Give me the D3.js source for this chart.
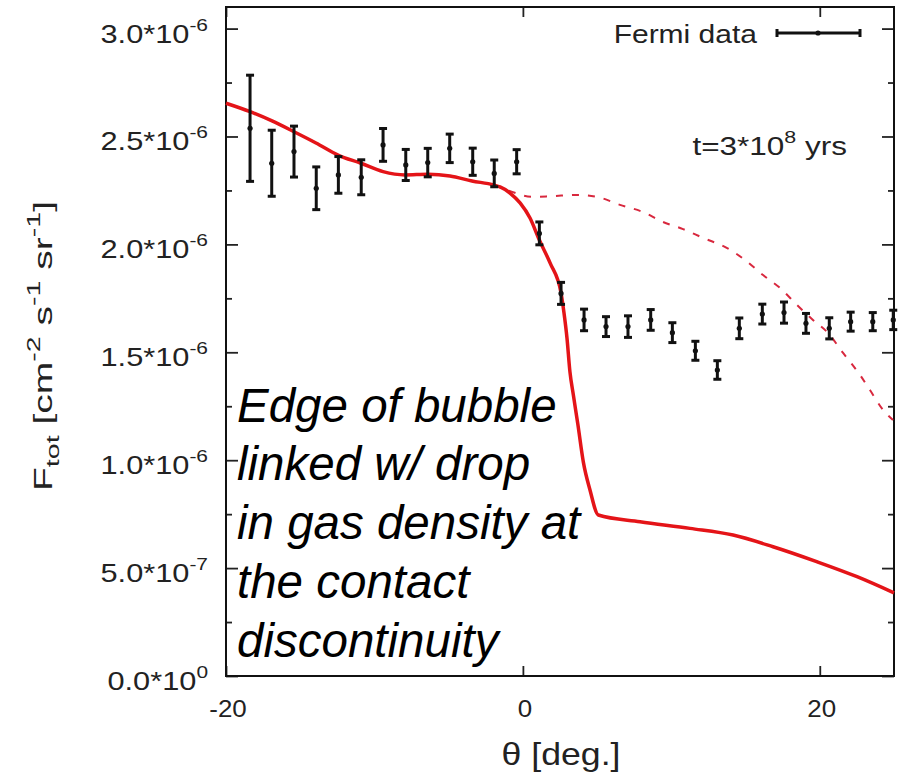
<!DOCTYPE html>
<html>
<head>
<meta charset="utf-8">
<script src="https://cdn.jsdelivr.net/npm/d3@7"></script>
<style>
  body { margin: 0; background: #fff; }
  svg { display: block; }
</style>
</head>
<body>
<svg id="chart" width="898" height="775"></svg>
<script>
// Fermi gamma-ray profile; flux in units of 1e-6 cm^-2 s^-1 sr^-1
const fermiTheta = [-18.38, -16.92, -15.42, -13.92, -12.43, -10.89, -9.42, -7.89, -6.41, -4.93,
                    -3.38, -1.93, -0.42, 1.11, 2.57, 4.12, 5.60, 7.08, 8.61, 10.07,
                    11.62, 13.10, 14.58, 16.13, 17.59, 19.07, 20.64, 22.08, 23.57, 24.95];
const fermiFlux  = [2.538, 2.376, 2.430, 2.260, 2.322, 2.311, 2.461, 2.368, 2.379, 2.445,
                    2.383, 2.329, 2.383, 2.051, 1.773, 1.650, 1.619, 1.619, 1.650, 1.591,
                    1.507, 1.418, 1.611, 1.677, 1.684, 1.634, 1.611, 1.642, 1.642, 1.650];
const fermiErr   = [0.246, 0.153, 0.118, 0.099, 0.085, 0.081, 0.076, 0.072, 0.066, 0.066,
                    0.063, 0.062, 0.056, 0.053, 0.051, 0.050, 0.046, 0.050, 0.048, 0.046,
                    0.044, 0.043, 0.048, 0.046, 0.049, 0.046, 0.049, 0.044, 0.042, 0.045];

// Model with the gas-density drop at the contact discontinuity (solid)
const modelTheta = [-20, -18.38, -16.90, -15.42, -13.94, -12.45, -10.91, -9.42, -7.94, -6.39,
                    -4.91, -3.43, -1.95, -1.54, -0.87, -0.19, 0.48, 1.11, 1.83, 2.57,
                    2.77, 2.97, 3.17, 3.40, 3.71, 4.07, 4.52, 5.08, 7.89, 11.26,
                    14.16, 16.85, 19.79, 22.51, 25.0];
const modelFlux  = [2.654, 2.615, 2.572, 2.522, 2.470, 2.414, 2.376, 2.337, 2.322, 2.325,
                    2.317, 2.294, 2.275, 2.266, 2.238, 2.192, 2.122, 2.020, 1.914, 1.775,
                    1.682, 1.566, 1.409, 1.302, 1.163, 0.992, 0.862, 0.746, 0.715, 0.684,
                    0.653, 0.599, 0.530, 0.460, 0.385];

// Same model without the density drop (dashed)
const noDropTheta = [-1.95, -1.07, 0.68, 2.03, 3.65, 5.00, 6.54, 8.09, 9.44, 10.79,
                     12.14, 13.76, 14.96, 16.18, 17.32, 18.47, 19.54, 20.56, 21.57, 22.71,
                     23.38, 24.26, 24.93];
const noDropFlux  = [2.275, 2.252, 2.220, 2.224, 2.229, 2.220, 2.183, 2.150, 2.104, 2.071,
                     2.030, 1.983, 1.928, 1.858, 1.798, 1.719, 1.650, 1.589, 1.497, 1.395,
                     1.325, 1.233, 1.186];

// Axis ticks
const yTickValues   = [0, 0.5, 1.0, 1.5, 2.0, 2.5, 3.0];
const yTickMantissa = ["0.0", "5.0", "1.0", "1.5", "2.0", "2.5", "3.0"];
const yTickExponent = ["0", "-7", "-6", "-6", "-6", "-6", "-6"];
const yMinorValues  = [0.25, 0.75, 1.25, 1.75, 2.25, 2.75];
const xTickValues   = [-20, 0, 20];
const xTickLabels   = ["-20", "0", "20"];

const annotationLines = ["Edge of bubble", "linked w/ drop", "in gas density at",
                         "the contact", "discontinuity"];

const FONT = "'Liberation Sans', Arial, Helvetica, sans-serif";
const svg = d3.select("#chart");
const plotL = 226, plotT = 7, plotR = 894, plotB = 676;

const x = d3.scaleLinear().domain([-20, 25]).range([plotL, plotR]);
const y = d3.scaleLinear().domain([0, 3.1]).range([plotB, plotT]);

// axis ticks (all pointing inward)
function tickAxis(axis, tf, vals, size) {
  const g = svg.append("g").attr("transform", tf)
    .call(axis.tickValues(vals).tickSize(size).tickFormat(""));
  g.select(".domain").remove();
  g.selectAll(".tick line").attr("stroke", "#222").attr("stroke-width", 1.8);
}
tickAxis(d3.axisLeft(y), `translate(${plotL},0)`, yTickValues, -12);
tickAxis(d3.axisLeft(y), `translate(${plotL},0)`, yMinorValues, -6);
tickAxis(d3.axisRight(y), `translate(${plotR},0)`, yTickValues, -12);
tickAxis(d3.axisRight(y), `translate(${plotR},0)`, yMinorValues, -6);
tickAxis(d3.axisBottom(x), `translate(0,${plotB})`, xTickValues, -10);
tickAxis(d3.axisTop(x), `translate(0,${plotT})`, xTickValues, -10);

// frame
svg.append("rect")
  .attr("x", plotL).attr("y", plotT)
  .attr("width", plotR - plotL).attr("height", plotB - plotT)
  .attr("fill", "none").attr("stroke", "#111").attr("stroke-width", 2);

// helper: horizontally stretched text group
function stretched(px, py, sx, anchor, size) {
  return svg.append("g")
    .attr("transform", `translate(${px},${py}) scale(${sx},1)`)
    .append("text")
    .attr("text-anchor", anchor)
    .attr("font-family", FONT)
    .attr("font-size", size)
    .attr("fill", "#222");
}

// y tick labels with powers of ten
yTickValues.forEach((v, i) => {
  const t = stretched(208, y(v) + 14, 1.23, "end", 25);
  t.append("tspan").text(yTickMantissa[i] + "*10");
  t.append("tspan").attr("font-size", 17).attr("dy", -12).text(yTickExponent[i]);
});

// x tick labels
xTickValues.forEach((v, i) => {
  stretched(x(v) + 2, 717, 1.08, "middle", 24).text(xTickLabels[i]);
});

// axis titles
stretched(561, 765, 1.15, "middle", 31).text("θ [deg.]");

const yt = svg.append("text")
  .attr("transform", "translate(52,346) rotate(-90)")
  .attr("text-anchor", "middle")
  .attr("font-family", FONT)
  .attr("font-size", 26)
  .attr("fill", "#222")
  .attr("textLength", 290)
  .attr("lengthAdjust", "spacingAndGlyphs");
yt.append("tspan").text("F");
yt.append("tspan").attr("font-size", 19).attr("dy", 7).text("tot");
yt.append("tspan").attr("dy", -7).text(" [cm");
yt.append("tspan").attr("font-size", 19).attr("dy", -12).text("-2");
yt.append("tspan").attr("dy", 12).text(" s");
yt.append("tspan").attr("font-size", 19).attr("dy", -12).text("-1");
yt.append("tspan").attr("dy", 12).text(" sr");
yt.append("tspan").attr("font-size", 19).attr("dy", -12).text("-1");
yt.append("tspan").attr("dy", 12).text("]");

// model curves
const line = d3.line().x(d => x(d[0])).y(d => y(d[1])).curve(d3.curveMonotoneX);

svg.append("path")
  .datum(noDropTheta.map((t, i) => [t, noDropFlux[i]]))
  .attr("d", line)
  .attr("fill", "none")
  .attr("stroke", "#d8283e")
  .attr("stroke-width", 2)
  .attr("stroke-dasharray", "7,9");

svg.append("path")
  .datum(modelTheta.map((t, i) => [t, modelFlux[i]]))
  .attr("d", line)
  .attr("fill", "none")
  .attr("stroke", "#e41418")
  .attr("stroke-width", 3.5)
  .attr("stroke-linejoin", "round");

// Fermi data with error bars
const pts = svg.append("g").attr("stroke", "#111").attr("stroke-width", 3).attr("fill", "#111");
fermiTheta.forEach((t, i) => {
  const cx = x(t);
  const y0 = y(fermiFlux[i] - fermiErr[i]);
  const y1 = y(fermiFlux[i] + fermiErr[i]);
  pts.append("line").attr("x1", cx).attr("x2", cx).attr("y1", y0).attr("y2", y1);
  pts.append("line").attr("x1", cx - 4).attr("x2", cx + 4).attr("y1", y0).attr("y2", y0);
  pts.append("line").attr("x1", cx - 4).attr("x2", cx + 4).attr("y1", y1).attr("y2", y1);
  pts.append("circle").attr("cx", cx).attr("cy", y(fermiFlux[i])).attr("r", 2.6).attr("stroke", "none");
});

// legend
stretched(757, 43, 1.2, "end", 25).text("Fermi data");
const lg = svg.append("g").attr("stroke", "#111").attr("stroke-width", 3);
lg.append("line").attr("x1", 777).attr("x2", 860).attr("y1", 33).attr("y2", 33);
lg.append("line").attr("x1", 777).attr("x2", 777).attr("y1", 29).attr("y2", 37);
lg.append("line").attr("x1", 860).attr("x2", 860).attr("y1", 29).attr("y2", 37);
lg.append("circle").attr("cx", 818).attr("cy", 33).attr("r", 2.6).attr("fill", "#111").attr("stroke", "none");

// epoch label
const tl = stretched(847, 155, 1.26, "end", 25);
tl.append("tspan").text("t=3*10");
tl.append("tspan").attr("font-size", 17).attr("dy", -12).text("8");
tl.append("tspan").attr("dy", 12).text(" yrs");

// annotation
const ann = svg.append("text")
  .attr("font-family", FONT)
  .attr("font-style", "italic")
  .attr("font-size", 47.5)
  .attr("fill", "#000");
annotationLines.forEach((s, i) => {
  ann.append("tspan").attr("x", 237).attr("y", 421.7 + i * 58.75).text(s);
});
</script>
</body>
</html>
